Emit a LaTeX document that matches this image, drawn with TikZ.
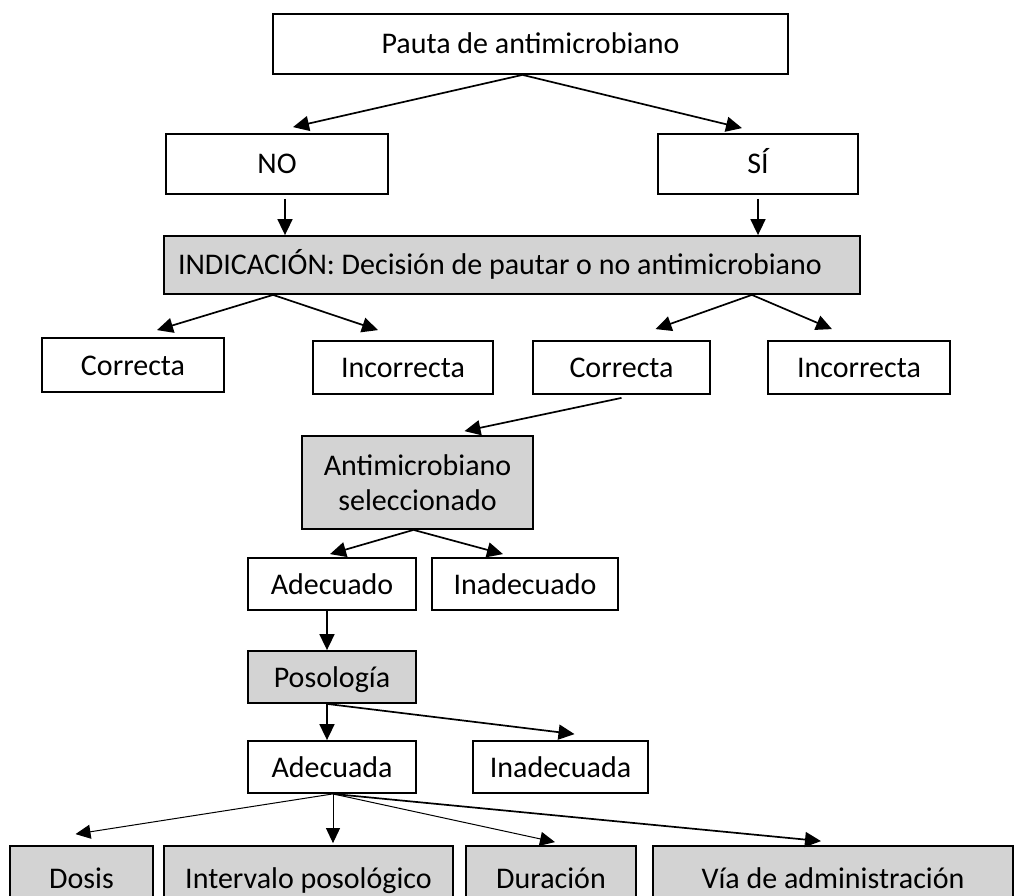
\documentclass[tikz,border=0pt]{standalone}
\usepackage{fontspec}
\setmainfont{Carlito}
\usepackage{tikz}
\usetikzlibrary{arrows.meta,calc}
\definecolor{boxgray}{RGB}{211,211,211}

\begin{document}
\begin{tikzpicture}[x=1pt, y=-1pt,
    box/.style={draw, line width=1.8pt, rectangle, inner sep=0pt, align=center,
        text height=24pt, text depth=4pt, font=\fontsize{30}{35}\selectfont},
    shaded/.style={box, fill=boxgray},
    arrow/.style={line width=1.7pt, -{Triangle[length=16pt, width=15pt]}},
    thin arrow/.style={line width=1pt, -{Triangle[length=15pt, width=14pt]}}]
    \useasboundingbox (0,0) rectangle (1015,896);
    \clip (0,0) rectangle (1015,896);

    % First, locate each of the nodes and name them
    \node [box, minimum width=515pt, minimum height=60pt] (pauta) at (530.5,44) {Pauta de antimicrobiano};
    \node [box, minimum width=222pt, minimum height=60pt] (no) at (277,164) {NO};
    \node [box, minimum width=200pt, minimum height=60pt] (si) at (758,164) {SÍ};
    \node [shaded, minimum width=696pt, minimum height=58pt, text width=668pt, inner xsep=14pt, align=flush left]
        (indicacion) at (512,265) {INDICACIÓN: Decisión de pautar o no antimicrobiano};
    \node [box, minimum width=182pt, minimum height=54pt] (left correcta) at (133,365) {Correcta};
    \node [box, minimum width=180pt, minimum height=53pt] (left incorrecta) at (403,367.5) {Incorrecta};
    \node [box, minimum width=177pt, minimum height=53pt] (right correcta) at (621.5,367.5) {Correcta};
    \node [box, minimum width=182pt, minimum height=53pt] (right incorrecta) at (859,367.5) {Incorrecta};
    \node [shaded, text height={}, text depth={}, minimum width=231pt, minimum height=93pt]
        (antimicrobiano) at (417.5,482.5) {Antimicrobiano\\seleccionado};
    \node [box, minimum width=168pt, minimum height=52pt] (adecuado) at (332,584) {Adecuado};
    \node [box, minimum width=186pt, minimum height=52pt] (inadecuado) at (525,584) {Inadecuado};
    \node [shaded, minimum width=168pt, minimum height=52pt] (posologia) at (332,677) {Posología};
    \node [box, minimum width=168pt, minimum height=52pt] (adecuada) at (332,767) {Adecuada};
    \node [box, minimum width=175pt, minimum height=52pt] (inadecuada) at (560.5,767) {Inadecuada};
    \node [shaded, minimum width=143pt, minimum height=64pt] (dosis) at (81.5,878) {Dosis};
    \node [shaded, minimum width=289pt, minimum height=64pt] (intervalo) at (308.5,878) {Intervalo posológico};
    \node [shaded, minimum width=170pt, minimum height=64pt] (duracion) at (551,878) {Duración};
    \node [shaded, minimum width=360pt, minimum height=64pt] (via) at (833,878) {Vía de administración};

    % Now draw the arrows:
    \draw [arrow] ($(pauta.south)+(-8,0)$) -- ($(no.north)+(16,-6)$);
    \draw [arrow] ($(pauta.south)+(-8,0)$) -- ($(si.north)+(-16,-5)$);
    \draw [arrow] ($(no.south)+(8,4)$) -- ($(no.south |- indicacion.north)+(8,0)$);
    \draw [arrow] ($(si.south)+(0,4)$) -- (si.south |- indicacion.north);
    \draw [arrow] ($(indicacion.south west)+(110,0)$) -- ($(left correcta.north)+(24,-7)$);
    \draw [arrow] ($(indicacion.south west)+(110,0)$) -- ($(left incorrecta.north)+(-25,-10)$);
    \draw [arrow] ($(indicacion.south east)+(-109,0)$) -- ($(right correcta.north)+(34,-11)$);
    \draw [arrow] ($(indicacion.south east)+(-109,0)$) -- ($(right incorrecta.north)+(-27,-11)$);
    \draw [arrow] ($(right correcta.south)+(0,3)$) -- ($(antimicrobiano.north)+(47,-4)$);
    \draw [arrow] ($(antimicrobiano.south)+(-4,0)$) -- ($(adecuado.north)+(-2,-3)$);
    \draw [arrow] ($(antimicrobiano.south)+(-4,0)$) -- ($(inadecuado.north)+(-22,-3)$);
    \draw [arrow] ($(adecuado.south)+(-5,0)$) -- ($(posologia.north)+(-5,0)$);
    \draw [arrow] ($(posologia.south)+(-5,0)$) -- ($(adecuada.north)+(-5,0)$);
    \draw [arrow] ($(posologia.south)+(-5,0)$) -- ($(inadecuada.north)+(14,-6)$);
    \draw [thin arrow] ($(adecuada.south)+(1,0)$) -- ($(dosis.north)+(-6,-11)$);
    \draw [thin arrow] ($(adecuada.south)+(1,0)$) -- ($(intervalo.north)+(24.5,-2)$);
    \draw [thin arrow] ($(adecuada.south)+(1,0)$) -- ($(duracion.north)+(4,-3)$);
    \draw [arrow] ($(adecuada.south)+(1,0)$) -- ($(via.north)+(-12,-4)$);
\end{tikzpicture}
\end{document}
